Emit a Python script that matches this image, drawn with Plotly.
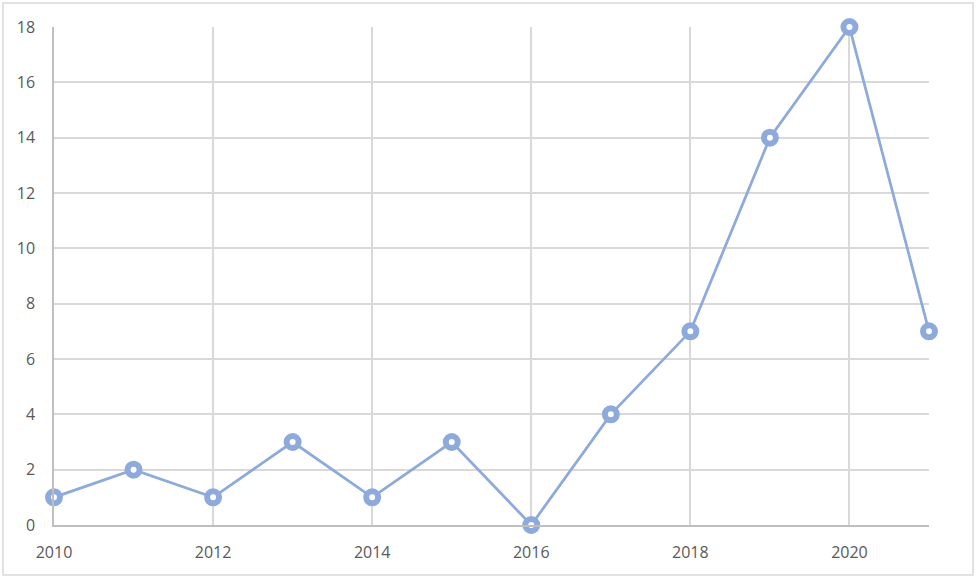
import plotly.graph_objects as go

# data
years = [2010, 2011, 2012, 2013, 2014, 2015, 2016, 2017, 2018, 2019, 2020, 2021]
counts = [1, 2, 1, 3, 1, 3, 0, 4, 7, 14, 18, 7]

x_ticks = [2010, 2012, 2014, 2016, 2018, 2020]
y_ticks = [0, 2, 4, 6, 8, 10, 12, 14, 16, 18]

blue = "#8EA9DB"
grid = "#D9D9D9"
label_font = dict(family="Open Sans, Liberation Sans, sans-serif", size=16, color="#595959")

fig = go.Figure()
fig.add_trace(go.Scatter(
    x=years, y=counts, mode="lines+markers",
    line=dict(color=blue, width=2.75),
    marker=dict(symbol="circle", size=12, color="white", line=dict(color=blue, width=6)),
    cliponaxis=False, showlegend=False,
))

W, H = 976, 579
ml, mr, mt, mb = 54, 47, 27, 54
pw, ph = W - ml - mr, H - mt - mb

fig.update_layout(
    width=W, height=H,
    margin=dict(l=ml, r=mr, t=mt, b=mb),
    paper_bgcolor="white", plot_bgcolor="white",
    font=label_font,
    xaxis=dict(range=[2010, 2021], tickvals=x_ticks, ticktext=[str(v) for v in x_ticks],
               showgrid=True, gridcolor=grid, gridwidth=1.5, zeroline=False,
               showline=True, linecolor="#BFBFBF", linewidth=1.5,
               ticks="", ticklabelstandoff=12, tickfont=label_font),
    yaxis=dict(range=[0, 18], tickvals=y_ticks, showgrid=True, gridcolor=grid, gridwidth=1.5,
               zeroline=False, showline=True, linecolor="#BFBFBF", linewidth=1.5,
               ticks="", ticklabelstandoff=14, tickfont=label_font),
)

# outer chart border
fig.add_shape(type="rect", xref="paper", yref="paper",
              x0=(3 - ml) / pw, x1=(973 - ml) / pw,
              y0=(H - mb - 575) / ph, y1=(H - mb - 3) / ph,
              line=dict(color="#D9D9D9", width=1.5), layer="below")

fig.write_html("out.html", config={"displayModeBar": False},
               post_script="document.body.style.margin='0';")
